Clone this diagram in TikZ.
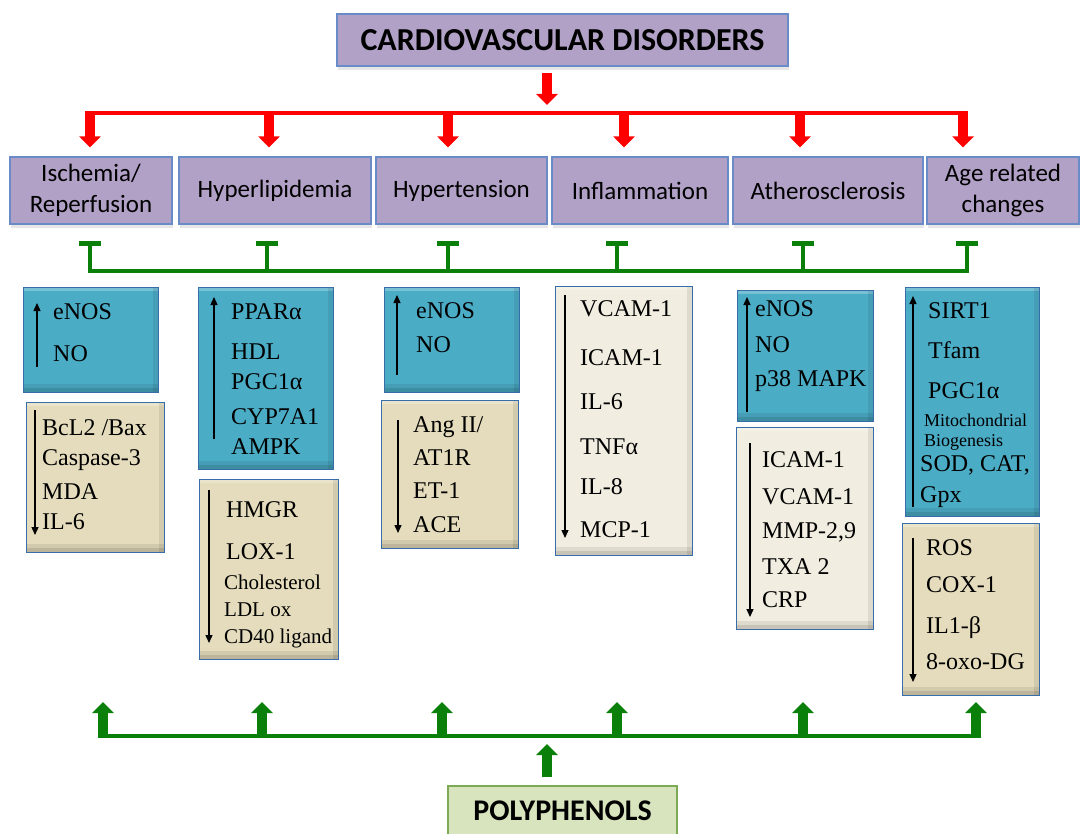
\documentclass[tikz,border=0pt]{standalone}
\usepackage{fontspec}
\setmainfont{Liberation Serif}
\newfontfamily\labelfont{Carlito}
\usetikzlibrary{arrows.meta,shadows}

\definecolor{lavfill}{RGB}{178,161,199}
\definecolor{lavline}{RGB}{105,140,200}
\definecolor{tealfill}{RGB}{75,172,198}
\definecolor{tealline}{RGB}{55,110,170}
\definecolor{sand}{RGB}{228,220,188}
\definecolor{cream}{RGB}{241,237,224}
\definecolor{leaf}{RGB}{10,128,10}
\definecolor{leaffill}{RGB}{215,228,189}
\definecolor{leafline}{RGB}{125,170,85}

\tikzset{
  disorder/.style={draw=lavline, fill=lavfill, line width=1.2pt, inner sep=0pt, align=center,
    font=\labelfont\fontsize{25}{31}\selectfont,
    drop shadow={shadow xshift=1pt, shadow yshift=-4pt, opacity=0.2}},
  bevel/.style={path picture={
    \fill[white, opacity=0.25] (path picture bounding box.north west) rectangle ([yshift=-4pt]path picture bounding box.north east);
    \fill[black, opacity=0.08] (path picture bounding box.south west) rectangle ([yshift=8pt]path picture bounding box.south east);
    \fill[black, opacity=0.10] (path picture bounding box.south west) rectangle ([yshift=4pt]path picture bounding box.south east);
    \fill[black, opacity=0.08] ([xshift=-5pt]path picture bounding box.south east) rectangle (path picture bounding box.north east);}},
  rise/.style={draw=tealline, fill=tealfill, line width=1pt, inner sep=0pt, bevel},
  fall/.style={draw=tealline, fill=sand, line width=1pt, inner sep=0pt, bevel},
  entry/.style={anchor=west, inner sep=0pt, font=\fontsize{24}{24}\selectfont},
  minor/.style={entry, font=\fontsize{21}{21}\selectfont},
  note/.style={entry, font=\fontsize{18}{18}\selectfont},
  trend/.style={line width=1.3pt, -{Triangle[length=8pt,width=7pt]}},
  redbranch/.style={red, line width=10pt, -{Triangle[length=11pt,width=21pt]}},
  greenbranch/.style={leaf, line width=10pt, -{Triangle[length=11pt,width=21pt]}},
  block/.style={leaf, line width=4pt, -{Bar[width=22pt,line width=5pt]}}
}

\begin{document}
\begin{tikzpicture}[x=1pt,y=-1pt]
\useasboundingbox (0,0) rectangle (1081,834);

\node[disorder, font=\labelfont\bfseries\fontsize{32}{32}\selectfont, minimum width=451pt, minimum height=52pt] (cvd) at (562.5,40) {CARDIOVASCULAR DISORDERS};

\node[disorder, minimum width=162pt, minimum height=67pt] (isch) at (91,190.5) {Ischemia/\\Reperfusion};
\node[disorder, minimum width=192pt, minimum height=67pt] (hyper) at (275,190.5) {Hyperlipidemia};
\node[disorder, minimum width=171pt, minimum height=67pt] (tension) at (461.5,190.5) {Hypertension};
\node[disorder, minimum width=176pt, minimum height=67pt] (inflam) at (640,190.5) {Inflammation};
\node[disorder, minimum width=190pt, minimum height=67pt] (athero) at (828,190.5) {Atherosclerosis};
\node[disorder, minimum width=152pt, minimum height=67pt] (age) at (1003,190.5) {Age related\\changes};

% red branches
\coordinate (hub) at (547,113);
\draw[red, line width=4pt] (90,113) -- (963,113);
\draw[redbranch, shorten <=6pt, shorten >=8pt] (cvd.south -| hub) -- (hub);
\foreach \x/\name [count=\i] in {90/isch,269/hyper,448/tension,624/inflam,800/athero,963/age}{
  \coordinate (r\i) at (\x,113);
  \draw[redbranch, shorten <=-2pt, shorten >=9pt] (r\i) -- (r\i |- \name.north);
}

% green blocks
\foreach \x/\name [count=\i] in {90/isch,267/hyper,448/tension,617/inflam,803/athero,967/age}{
  \coordinate (g\i) at (\x,271);
  \draw[block, shorten <=-2pt, shorten >=16pt] (g\i) -- (g\i |- \name.south);
}
\draw[leaf, line width=4pt] (g1) -- (g6);

% boxes
\node[rise, minimum width=135pt, minimum height=105pt] (b1) at (90.5,339.5) {};
\node[fall, minimum width=138pt, minimum height=150pt] (l1) at (95,477) {};
\node[rise, minimum width=135pt, minimum height=182pt] (b2) at (265.5,378) {};
\node[fall, minimum width=139pt, minimum height=180pt] (l2) at (268.5,569) {};
\node[rise, minimum width=135pt, minimum height=105pt] (b3) at (451.5,339.5) {};
\node[fall, minimum width=137pt, minimum height=148pt] (l3) at (449.5,474) {};
\node[fall, fill=cream, minimum width=137pt, minimum height=269pt] (l4) at (623.5,420.5) {};
\node[rise, minimum width=136pt, minimum height=131pt] (b5) at (805,355.5) {};
\node[fall, fill=cream, minimum width=137pt, minimum height=202pt] (l5) at (804.5,528) {};
\node[rise, minimum width=134pt, minimum height=229pt] (b6) at (972,401.5) {};
\node[fall, minimum width=137pt, minimum height=172pt] (l6) at (970.5,609) {};

\foreach \y/\t [count=\n] in {312/eNOS,354/NO}
  \node[entry] (b1-\n) at (53,\y) {\t};
\foreach \y/\t [count=\n] in {428/{BcL2 /Bax},460/Caspase-3,492/MDA,522/IL-6}
  \node[entry] (l1-\n) at (42,\y) {\t};
\foreach \y/\t [count=\n] in {312/PPARα,352/HDL,382/PGC1α,417/CYP7A1,447/AMPK}
  \node[entry] (b2-\n) at (231,\y) {\t};
\foreach \y/\t [count=\n] in {510/HMGR,552/LOX-1}
  \node[entry] (l2-\n) at (226,\y) {\t};
\foreach \y/\t [count=\n] in {582/Cholesterol,610/LDL ox,638/CD40 ligand}
  \node[minor] (l2-s\n) at (224,\y) {\t};
\foreach \y/\t [count=\n] in {311/eNOS,345/NO}
  \node[entry] (b3-\n) at (416,\y) {\t};
\foreach \y/\t [count=\n] in {427/{Ang II/},458/AT1R,491/ET-1,525/ACE}
  \node[entry] (l3-\n) at (413,\y) {\t};
\foreach \y/\t [count=\n] in {309/VCAM-1,358/ICAM-1,402/IL-6,447/TNFα,487/IL-8,530/MCP-1}
  \node[entry] (l4-\n) at (580,\y) {\t};
\foreach \y/\t [count=\n] in {309/eNOS,345/NO,381/p38 MAPK}
  \node[entry] (b5-\n) at (755,\y) {\t};
\foreach \y/\t [count=\n] in {460/ICAM-1,497/VCAM-1,532/{MMP-2,9},567/TXA 2,600/CRP}
  \node[entry] (l5-\n) at (762,\y) {\t};
\foreach \y/\t [count=\n] in {311/SIRT1,350/Tfam,391/PGC1α}
  \node[entry] (b6-\n) at (928,\y) {\t};
\foreach \y/\t [count=\n] in {420/Mitochondrial,442/Biogenesis}
  \node[note] (b6-s\n) at (924,\y) {\t};
\foreach \y/\t [count=\n] in {465/{SOD, CAT,},497/Gpx}
  \node[entry] (b6-t\n) at (920,\y) {\t};
\foreach \y/\t [count=\n] in {548/ROS,585/COX-1,628/IL1-β,662/8-oxo-DG}
  \node[entry] (l6-\n) at (926,\y) {\t};

% up and down trends
\foreach \x/\a/\b [count=\n] in {37/367/303,35/410/535,214/439/297,209/490/643,397/375/295,398/420/533,
    565/295/538,747/412/297,750/443/617,913/507/296,913/538/682}{
  \coordinate (s\n) at (\x,\a);
  \coordinate (e\n) at (\x,\b);
  \draw[trend] (s\n) -- (e\n);
}

% polyphenols
\node[draw=leafline, fill=leaffill, line width=1.2pt, minimum width=229pt, minimum height=50pt,
  font=\labelfont\bfseries\fontsize{30}{30}\selectfont] (poly) at (562.5,811) {POLYPHENOLS};
\coordinate (mid) at (547,736);
\foreach \x [count=\i] in {103,262,442,617,803,976}{
  \coordinate (u\i) at (\x,736);
  \coordinate (t\i) at (\x,702);
}
\draw[leaf, line width=4pt] (u1) -- (u6);
\foreach \i in {1,...,6}
  \draw[greenbranch, shorten <=-2pt] (u\i) -- (t\i);
\draw[greenbranch, shorten <=8pt, shorten >=8pt] (mid |- poly.north) -- (mid);
\end{tikzpicture}
\end{document}
